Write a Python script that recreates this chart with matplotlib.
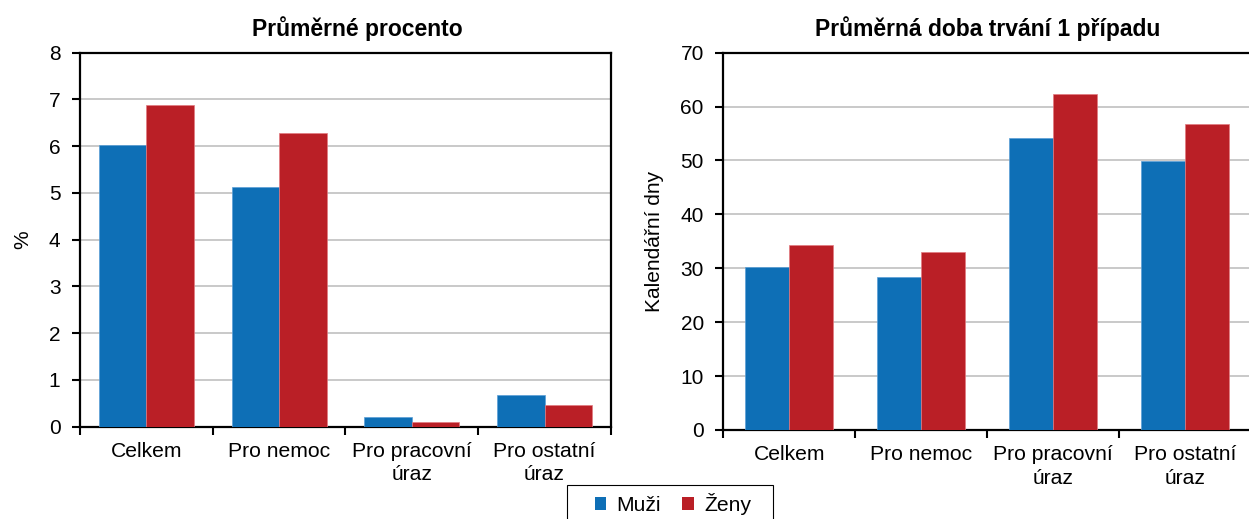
import numpy as np
import matplotlib.pyplot as plt
from matplotlib.patches import Patch, Rectangle

plt.rcParams['font.family'] = ['Liberation Sans', 'DejaVu Sans']

categories = ['Celkem', 'Pro nemoc', 'Pro pracovní\núraz', 'Pro ostatní\núraz']
muzi_pct = [6.03, 5.13, 0.21, 0.68]
zeny_pct = [6.88, 6.29, 0.11, 0.47]
muzi_days = [30.3, 28.3, 54.2, 49.9]
zeny_days = [34.3, 33.0, 62.3, 56.7]

blue = '#0e6fb6'
red = '#ba1f26'

W, H = 1249, 519
fig = plt.figure(figsize=(12.49, 5.19), dpi=100)
ax1 = fig.add_axes([0.064, 0.1778, 0.4251, 0.7207])
ax2 = fig.add_axes([0.5791, 0.1715, 0.4227, 0.727])


def draw(ax, m, z, width, ymax, step, title, ylabel, title_x, lpad):
    x = np.arange(len(categories)) + 0.5
    ax.bar(x - width / 2, m, width, color=blue, edgecolor='#5a9fd6', linewidth=0.5, zorder=3)
    ax.bar(x + width / 2, z, width, color=red, edgecolor='#e27a80', linewidth=0.5, zorder=3)
    ax.set_xlim(0, len(categories))
    ax.set_ylim(0, ymax)
    ax.set_yticks(np.arange(0, ymax + step, step))
    ax.yaxis.grid(True, color='#c0c0c0', linewidth=1.2, zorder=0)
    ax.set_axisbelow(True)
    ax.set_xticks(np.arange(0, len(categories) + 1))
    ax.set_xticklabels([])
    ax.set_xticks(x, minor=True)
    ax.set_xticklabels(categories, minor=True, fontsize=15.2, linespacing=1.3)
    ax.tick_params(axis='x', which='minor', length=0, pad=11)
    ax.tick_params(axis='x', which='major', direction='out', length=6, width=1.5)
    ax.tick_params(axis='y', direction='out', length=6, width=1.5, labelsize=15, pad=8)
    for s in ax.spines.values():
        s.set_linewidth(1.6)
        s.set_color('black')
    ax.set_title(title, fontsize=16.5, fontweight='bold', pad=12, x=title_x)
    ax.set_ylabel(ylabel, fontsize=15, labelpad=lpad)


draw(ax1, muzi_pct, zeny_pct, 0.358, 8, 1, 'Průměrné procento', '%', 0.523, 12)
draw(ax2, muzi_days, zeny_days, 0.333, 70, 10, 'Průměrná doba trvání 1 případu', 'Kalendářní dny', 0.5, 12)

# legend box (frame drawn separately, partly cut by the figure edge)
fig.patches.append(Rectangle((567 / W, -0.05), (773 - 567) / W, 0.05 + 1 - 485 / H,
                             transform=fig.transFigure, facecolor='white',
                             edgecolor='black', linewidth=0.8, zorder=5))
handles = [Patch(facecolor=blue, label='Muži'), Patch(facecolor=red, label='Ženy')]
leg = fig.legend(handles=handles, loc='center', bbox_to_anchor=(673 / W, 1 - 504 / H),
                 ncol=2, fontsize=15.2, frameon=False,
                 handlelength=0.55, handleheight=0.55, columnspacing=1.0, handletextpad=0.5,
                 borderpad=0, borderaxespad=0)
leg.set_zorder(6)

fig.savefig('out.png', dpi=100)
